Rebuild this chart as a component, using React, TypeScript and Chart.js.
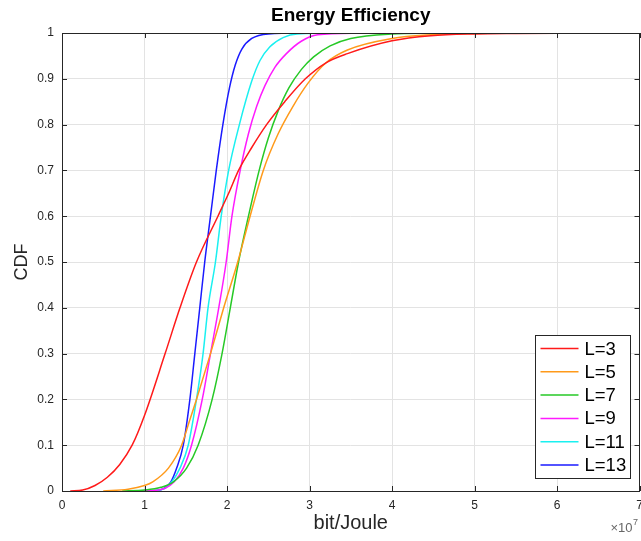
import React, { useEffect, useRef } from "react";
import { Chart, registerables } from "chart.js";

Chart.register(...registerables);

const seriesLabels = ["L=3", "L=5", "L=7", "L=9", "L=11", "L=13"];
const seriesColors = ["#ff1a1a", "#ff9a1a", "#26c926", "#ff1aff", "#1af0f0", "#1a1aff"];

const xL3 = [0.1, 0.25, 0.4, 0.55, 0.7, 0.85, 1.0, 1.25, 1.43, 1.63, 1.89, 2.02, 2.14, 2.3, 2.48, 2.7, 2.95, 3.2, 3.46, 4.0, 4.47, 5.0, 5.5, 7.0];
const yL3 = [0, 0.002, 0.012, 0.03, 0.058, 0.1, 0.165, 0.3, 0.4, 0.5, 0.6, 0.65, 0.7, 0.75, 0.8, 0.85, 0.9, 0.935, 0.955, 0.983, 0.994, 0.998, 0.999, 1.0];

const xL5 = [0.5, 0.8, 1.0, 1.1, 1.29, 1.45, 1.54, 1.63, 1.8, 1.96, 2.13, 2.28, 2.44, 2.62, 2.8, 2.98, 3.2, 3.46, 4.0, 4.47, 5.0, 5.6];
const yL5 = [0, 0.004, 0.012, 0.02, 0.05, 0.1, 0.15, 0.2, 0.3, 0.4, 0.5, 0.6, 0.7, 0.78, 0.84, 0.89, 0.935, 0.963, 0.988, 0.996, 0.999, 1.0];

const xL7 = [0.73, 1.0, 1.2, 1.35, 1.51, 1.65, 1.82, 1.94, 2.04, 2.14, 2.26, 2.39, 2.5, 2.62, 2.75, 2.9, 3.05, 3.25, 3.5, 4.0, 4.53];
const yL7 = [0, 0.002, 0.008, 0.02, 0.05, 0.1, 0.2, 0.3, 0.4, 0.5, 0.6, 0.7, 0.77, 0.83, 0.88, 0.92, 0.948, 0.972, 0.988, 0.998, 1.0];

const xL9 = [0.8, 1.1, 1.25, 1.36, 1.47, 1.57, 1.7, 1.8, 1.9, 1.99, 2.06, 2.16, 2.26, 2.36, 2.46, 2.58, 2.72, 2.9, 3.1, 3.64];
const yL9 = [0, 0.001, 0.006, 0.02, 0.05, 0.1, 0.2, 0.3, 0.4, 0.5, 0.6, 0.7, 0.78, 0.84, 0.885, 0.925, 0.955, 0.982, 0.996, 1.0];

const xL11 = [0.85, 1.1, 1.25, 1.33, 1.43, 1.53, 1.63, 1.71, 1.77, 1.86, 1.93, 2.02, 2.15, 2.3, 2.4, 2.52, 2.68, 2.85, 3.5];
const yL11 = [0, 0.001, 0.006, 0.02, 0.05, 0.1, 0.2, 0.3, 0.4, 0.5, 0.6, 0.7, 0.8, 0.895, 0.94, 0.97, 0.99, 0.998, 1.0];

const xL13 = [1.0, 1.15, 1.23, 1.32, 1.39, 1.47, 1.55, 1.61, 1.67, 1.73, 1.8, 1.87, 1.95, 2.03, 2.1, 2.18, 2.3, 2.5, 3.0];
const yL13 = [0, 0.001, 0.005, 0.02, 0.05, 0.1, 0.2, 0.3, 0.4, 0.5, 0.6, 0.7, 0.8, 0.88, 0.93, 0.965, 0.988, 0.998, 1.0];

const seriesX = [xL3, xL5, xL7, xL9, xL11, xL13];
const seriesY = [yL3, yL5, yL7, yL9, yL11, yL13];

const xTicks = [0, 1, 2, 3, 4, 5, 6, 7];
const yTicks = [0, 0.1, 0.2, 0.3, 0.4, 0.5, 0.6, 0.7, 0.8, 0.9, 1];

const titleText = "Energy Efficiency";
const xTitle = "bit/Joule";
const yTitle = "CDF";
const exponentBase = "×10";
const exponentPower = "7";

const FONT = "'Liberation Sans', Arial, Helvetica, sans-serif";
const AXIS = "#262626";

const matlabBox = {
  id: "matlabBox",
  afterDatasetsDraw(chart: any) {
    const { ctx, chartArea: a, scales } = chart;
    const xs = scales.x;
    const ys = scales.y;
    ctx.save();
    ctx.strokeStyle = AXIS;
    ctx.lineWidth = 1;
    ctx.beginPath();
    xTicks.forEach((v) => {
      const px = Math.round(xs.getPixelForValue(v)) + 0.5;
      ctx.moveTo(px, a.bottom);
      ctx.lineTo(px, a.bottom - 5);
      ctx.moveTo(px, a.top);
      ctx.lineTo(px, a.top + 5);
    });
    yTicks.forEach((v) => {
      const py = Math.round(ys.getPixelForValue(v)) + 0.5;
      ctx.moveTo(a.left, py);
      ctx.lineTo(a.left + 5, py);
      ctx.moveTo(a.right, py);
      ctx.lineTo(a.right - 5, py);
    });
    ctx.stroke();
    ctx.strokeRect(Math.round(a.left) + 0.5, Math.round(a.top) + 0.5, Math.round(a.right - a.left) - 1, Math.round(a.bottom - a.top));

    // exponent label
    ctx.fillStyle = "#666666";
    ctx.font = `13px ${FONT}`;
    ctx.textAlign = "left";
    ctx.textBaseline = "alphabetic";
    ctx.fillText(exponentBase, a.right - 29, 532);
    ctx.font = `9px ${FONT}`;
    ctx.fillText(exponentPower, a.right - 6.5, 525);

    // legend
    const bw = 95;
    const bh = 143;
    const bx = Math.round(a.right - 10 - bw) + 0.5;
    const by = Math.round(a.bottom - 13 - bh) + 0.5;
    ctx.fillStyle = "#ffffff";
    ctx.fillRect(bx, by, bw, bh);
    ctx.strokeStyle = AXIS;
    ctx.lineWidth = 1;
    ctx.strokeRect(bx, by, bw, bh);
    ctx.font = `18.5px ${FONT}`;
    ctx.textBaseline = "middle";
    chart.data.datasets.forEach((ds: any, i: number) => {
      const cy = by + 13 + i * 23.3;
      ctx.strokeStyle = ds.borderColor;
      ctx.lineWidth = 1.5;
      ctx.beginPath();
      ctx.moveTo(bx + 5, cy);
      ctx.lineTo(bx + 43, cy);
      ctx.stroke();
      ctx.fillStyle = "#000000";
      ctx.fillText(ds.label, bx + 49, cy + 1);
    });
    ctx.restore();
  },
};

export default function App() {
  const ref = useRef<HTMLCanvasElement | null>(null);

  useEffect(() => {
    if (!ref.current) return;
    const datasets = seriesLabels.map((label, i) => ({
      label,
      data: seriesX[i].map((x, j) => ({ x, y: seriesY[i][j] })),
      borderColor: seriesColors[i],
      backgroundColor: seriesColors[i],
      borderWidth: 1.5,
      pointRadius: 0,
      showLine: true,
      fill: false,
      cubicInterpolationMode: "monotone" as const,
    }));
    const chart = new Chart(ref.current, {
      type: "scatter",
      data: { datasets },
      plugins: [matlabBox],
      options: {
        responsive: false,
        animation: false,
        devicePixelRatio: 1,
        layout: { padding: { left: 0, right: 1.5, top: 0, bottom: 0 } },
        plugins: {
          legend: { display: false },
          tooltip: { enabled: false },
          title: {
            display: true,
            text: titleText,
            fullSize: false,
            color: "#000000",
            font: { family: FONT, size: 19, weight: "bold" },
            padding: { top: 4, bottom: 6.2 },
          },
        },
        scales: {
          x: {
            type: "linear",
            min: 0,
            max: 7,
            afterBuildTicks: (s: any) => {
              s.ticks = xTicks.map((v) => ({ value: v }));
            },
            afterFit: (s: any) => {
              s.height = 50;
              s.paddingLeft = 0;
              s.paddingRight = 0;
            },
            ticks: {
              color: AXIS,
              font: { family: FONT, size: 12 },
              padding: 7,
              maxRotation: 0,
              callback: (v: any) => String(v),
            },
            grid: { color: "#e3e3e3", drawTicks: false, lineWidth: 1 },
            border: { display: false },
            title: {
              display: true,
              text: xTitle,
              color: AXIS,
              font: { family: FONT, size: 20 },
              padding: { top: 0, bottom: 6 },
            },
          },
          y: {
            type: "linear",
            min: 0,
            max: 1,
            afterBuildTicks: (s: any) => {
              s.ticks = yTicks.map((v) => ({ value: v }));
            },
            afterFit: (s: any) => {
              s.width = 62;
              s.paddingTop = 0;
              s.paddingBottom = 0;
            },
            ticks: {
              color: AXIS,
              font: { family: FONT, size: 12 },
              padding: 8,
              callback: (v: any) => String(Math.round(v * 10) / 10),
            },
            grid: { color: "#e3e3e3", drawTicks: false, lineWidth: 1 },
            border: { display: false },
            title: {
              display: true,
              text: yTitle,
              color: AXIS,
              font: { family: FONT, size: 18 },
              padding: { top: 11, bottom: 0 },
            },
          },
        },
      },
    });
    return () => chart.destroy();
  }, []);

  return (
    <div style={{ position: "fixed", left: 0, top: 0, width: 641, height: 541, background: "#fff" }}>
      <canvas ref={ref} width={641} height={541} style={{ width: 641, height: 541, display: "block" }} />
    </div>
  );
}
